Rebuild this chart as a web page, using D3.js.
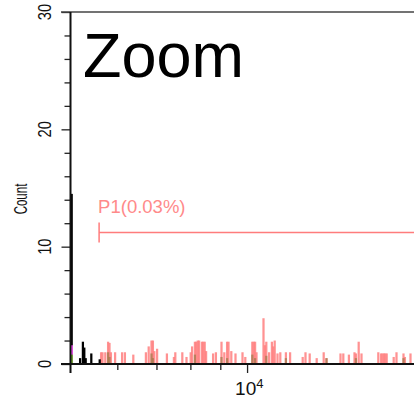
<!DOCTYPE html>
<html>
<head>
<meta charset="utf-8">
<script src="https://cdn.jsdelivr.net/npm/d3@7"></script>
<style>
  body { margin: 0; background: #fff; }
  svg { display: block; font-family: "Liberation Sans", Arial, sans-serif; }
</style>
</head>
<body>
<div id="chart"></div>
<script>
// Histogram data (channel index on a 256-channel display axis, count)
const blackChannels = [0, 6, 8, 9, 10, 14, 20];
const blackCounts   = [14.5, 0.5, 1.9, 1.4, 0.5, 0.9, 0.4];

const magentaChannels = [0];
const magentaCounts   = [1.6];
const greenChannels = [0];
const greenCounts   = [0.8];

const redChannels = [21, 22, 24, 26, 27, 28, 31, 36, 38, 44, 53, 55, 57, 58, 59, 61, 68, 73, 74, 79,
  82, 85, 86, 88, 89, 90, 91, 93, 94, 95, 96, 101, 103, 107, 109, 111, 112, 114, 117, 122,
  124, 129, 130, 131, 132, 137, 138, 139, 141, 143, 144, 145, 147, 149, 153, 156, 165, 167, 170, 175,
  180, 182, 192, 194, 198, 202, 203, 205, 207, 219, 221, 222, 223, 224, 225, 230, 232, 237, 238, 242];
const redCounts = [1.0, 1.0, 1.0, 1.9, 1.8, 1.0, 1.0, 1.0, 1.0, 0.8, 1.0, 1.5, 2.0, 2.0, 1.1, 1.3, 0.9, 0.6, 1.0, 1.0,
  0.6, 1.0, 1.5, 1.9, 1.9, 2.0, 2.0, 1.9, 1.9, 1.9, 1.1, 0.9, 1.0, 1.9, 1.0, 1.9, 1.9, 1.1, 0.9, 1.0,
  0.6, 1.9, 1.9, 1.9, 1.0, 3.9, 1.6, 1.9, 1.0, 1.9, 1.5, 2.0, 0.9, 1.0, 1.0, 1.0, 0.6, 1.0, 0.9, 0.5,
  1.0, 0.5, 0.9, 0.9, 0.8, 1.0, 0.9, 1.9, 0.9, 1.0, 0.9, 0.9, 0.9, 0.9, 0.9, 0.6, 1.0, 0.9, 0.6, 0.9];

const oliveChannels = [26, 27, 57, 58, 88, 107, 111, 129, 131, 139, 153, 182, 203, 237];
const oliveCounts   = [1.0, 0.6, 0.9, 0.5, 0.8, 0.6, 0.5, 0.8, 0.5, 0.7, 0.5, 0.5, 0.5, 0.5];

// Axis ticks
const yMajorTicks = [0, 10, 20, 30];
const yMinorTicks = [2, 4, 6, 8, 12, 14, 16, 18, 22, 24, 26, 28];
const xMajorTicks = [10000];
const xMinorTicks = [2000, 4000, 6000, 8000];

// Gate P1
const gateLabel = "P1(0.03%)";
const gateStart = 1170;
const gateEnd = 31000;
const gateLevel = 11.2;

const width = 414, height = 399;
const x0 = 71;

const svg = d3.select("#chart").append("svg")
    .attr("width", width)
    .attr("height", height);

// Scales
const chanScale = d3.scaleLinear().domain([0, 256]).range([x0, x0 + 256 * 1.4]);
const xScale = d3.scaleSymlog().constant(10000).domain([0, 31000]).range(chanScale.range());
const yScale = d3.scaleLinear().domain([0, 30]).range([364, 12]);

function drawHist(channels, counts, fill, opacity) {
    svg.append("g")
        .attr("fill", fill)
        .attr("fill-opacity", opacity)
        .selectAll("rect")
        .data(channels.map((c, i) => ({ ch: c, n: counts[i] })))
        .join("rect")
        .attr("x", d => chanScale(d.ch - 0.3))
        .attr("width", d => chanScale(d.ch + 1.3) - chanScale(d.ch - 0.3))
        .attr("y", d => yScale(d.n))
        .attr("height", d => yScale(0) - yScale(d.n));
}

drawHist(redChannels, redCounts, "#ff7f7f", 0.85);
drawHist(oliveChannels, oliveCounts, "#9c7a48", 0.7);
drawHist(blackChannels, blackCounts, "#000", 1);
drawHist(magentaChannels, magentaCounts, "#ff55ff", 1);
drawHist(greenChannels, greenCounts, "#66aa22", 1);

// Y axis ticks
const yMajor = svg.append("g")
    .attr("transform", `translate(${x0 - 0.5},0)`)
    .call(d3.axisLeft(yScale).tickValues(yMajorTicks).tickSize(9).tickFormat(""));
const yMinor = svg.append("g")
    .attr("transform", `translate(${x0 - 0.5},0)`)
    .call(d3.axisLeft(yScale).tickValues(yMinorTicks).tickSize(6).tickFormat(""));
[yMajor, yMinor].forEach(g => {
    g.select(".domain").remove();
    g.selectAll("line").attr("stroke", "#222").attr("stroke-width", 1.3);
});

// Y tick labels (rotated, condensed)
svg.append("g")
    .selectAll("text")
    .data(yMajorTicks)
    .join("text")
    .attr("transform", d => `translate(51,${yScale(d)}) rotate(-90) scale(0.82,1)`)
    .attr("text-anchor", "middle")
    .style("font-size", "18px")
    .attr("fill", "#111")
    .text(d => d);

// X axis ticks
const xMajor = svg.append("g")
    .attr("transform", "translate(0,364)")
    .call(d3.axisBottom(xScale).tickValues(xMajorTicks).tickSize(9).tickFormat(""));
const xMinor = svg.append("g")
    .attr("transform", "translate(0,364)")
    .call(d3.axisBottom(xScale).tickValues(xMinorTicks).tickSize(6).tickFormat(""));
[xMajor, xMinor].forEach(g => {
    g.select(".domain").remove();
    g.selectAll("line").attr("stroke", "#222").attr("stroke-width", 1.3);
});

// X tick label 10^4
const xl = svg.append("text")
    .attr("x", xScale(10000) - 12)
    .attr("y", 395)
    .style("font-size", "19px")
    .attr("fill", "#111");
xl.append("tspan").text("10");
xl.append("tspan").attr("dy", -7).style("font-size", "13px").text("4");

// Frame lines
svg.append("line")
    .attr("x1", 61).attr("x2", width)
    .attr("y1", yScale(30)).attr("y2", yScale(30))
    .attr("stroke", "#444").attr("stroke-width", 1.5);
svg.append("line")
    .attr("x1", x0 - 0.5).attr("x2", x0 - 0.5)
    .attr("y1", yScale(30)).attr("y2", yScale(0) + 9)
    .attr("stroke", "#111").attr("stroke-width", 2);
svg.append("line")
    .attr("x1", 61).attr("x2", width)
    .attr("y1", yScale(0)).attr("y2", yScale(0))
    .attr("stroke", "#111").attr("stroke-width", 2);

// Axis title
svg.append("text")
    .attr("transform", `translate(27,${199}) rotate(-90) scale(0.64,1)`)
    .attr("text-anchor", "middle")
    .style("font-size", "18px")
    .attr("fill", "#111")
    .text("Count");

// Gate
const gate = svg.append("g").attr("stroke", "#ff7c7c").attr("stroke-width", 1.5);
gate.append("line")
    .attr("x1", xScale(gateStart)).attr("x2", xScale(gateEnd))
    .attr("y1", yScale(gateLevel)).attr("y2", yScale(gateLevel));
gate.append("line")
    .attr("x1", xScale(gateStart)).attr("x2", xScale(gateStart))
    .attr("y1", yScale(gateLevel) - 10).attr("y2", yScale(gateLevel) + 10);
svg.append("text")
    .attr("x", xScale(gateStart) - 1)
    .attr("y", yScale(gateLevel) - 20)
    .style("font-size", "18.5px")
    .attr("fill", "#ff8a8a")
    .text(gateLabel);

// Title inside plot
svg.append("text")
    .attr("x", 83)
    .attr("y", 77)
    .style("font-size", "63px")
    .attr("fill", "#000")
    .text("Zoom");
</script>
</body>
</html>
